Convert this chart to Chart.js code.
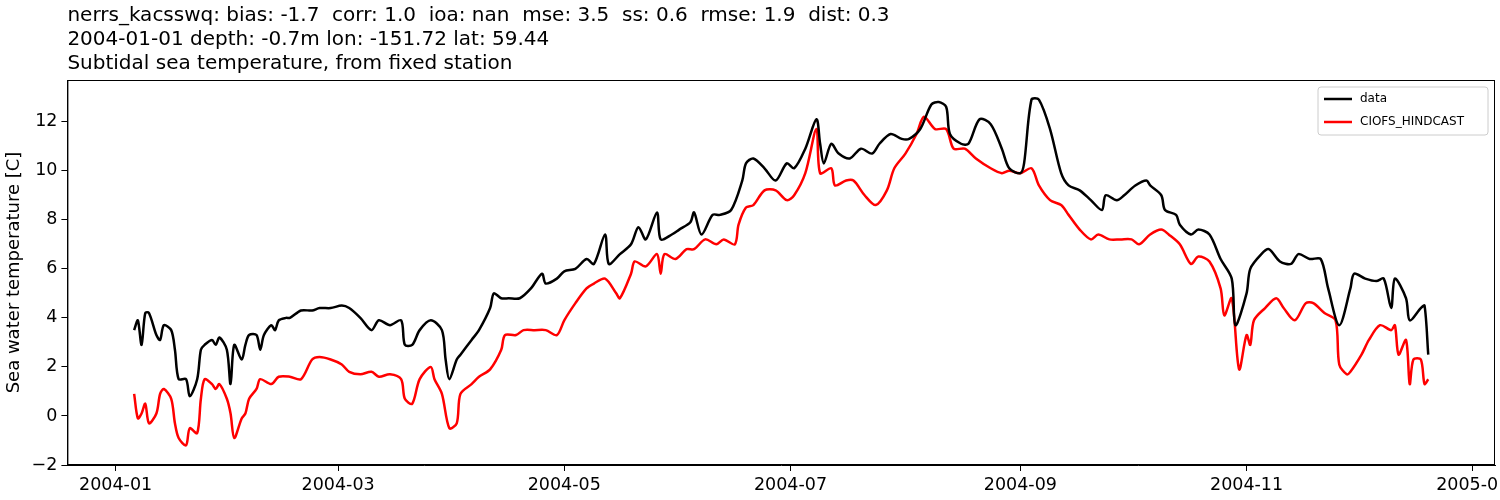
<!DOCTYPE html>
<html>
<head>
<meta charset="utf-8">
<script src="https://cdn.jsdelivr.net/npm/chart.js@4.4.0/dist/chart.umd.min.js"></script>
<style>
  html, body { margin: 0; padding: 0; background: #fff; }
</style>
</head>
<body>
<canvas id="c" width="1500" height="500"></canvas>
<script>
// Subtidal sea temperature, nerrs_kacsswq vs CIOFS_HINDCAST, 2004.
// x values are day offsets from 2004-01-01.

const titleLines = [
  'nerrs_kacsswq: bias: -1.7  corr: 1.0  ioa: nan  mse: 3.5  ss: 0.6  rmse: 1.9  dist: 0.3',
  '2004-01-01 depth: -0.7m lon: -151.72 lat: 59.44',
  'Subtidal sea temperature, from fixed station'
];
const yLabel = 'Sea water temperature [C]';

const tickDays = [0, 60, 121, 182, 244, 305, 366];
const tickLabels = ['2004-01', '2004-03', '2004-05', '2004-07', '2004-09', '2004-11', '2005-01'];
const yTicks = [-2, 0, 2, 4, 6, 8, 10, 12];

const dataDays = [5,6,7,8,9,11,12,13,15,16,17,19,20,22,23,24,26,27,28,30,31,32,34,35,36,38,39,40,42,43,44,46,47,50,53,55,58,61,63,66,69,71,74,77,78,80,82,85,88,89,90,92,93,96,98,101,102,104,106,109,112,115,116,119,121,124,127,129,132,133,136,139,141,143,146,147,150,152,155,156,158,161,163,166,169,170,172,175,178,181,183,186,189,190,191,193,195,198,201,204,206,209,212,214,217,220,222,224,225,228,230,233,236,239,241,244,245,247,249,252,255,257,260,263,266,267,270,272,275,278,279,282,283,286,287,290,292,295,298,301,302,305,306,309,311,314,317,319,322,325,327,330,333,334,337,340,342,344,345,348,349,352,353,354];
const dataTemp = [3.5,3.9,2.9,4.2,4.2,3.3,3.1,3.7,3.5,2.7,1.5,1.5,0.8,1.5,2.7,2.9,3.1,2.9,3.2,2.7,1.3,2.9,2.3,2.9,3.3,3.3,2.7,3.3,3.7,3.5,3.9,4.0,4.0,4.3,4.3,4.4,4.4,4.5,4.4,4.0,3.5,3.9,3.7,3.9,2.9,2.9,3.5,3.9,3.5,2.3,1.5,2.3,2.5,3.1,3.5,4.4,5.0,4.8,4.8,4.8,5.2,5.8,5.4,5.6,5.9,6.0,6.4,6.2,7.4,6.2,6.6,7.0,7.7,7.2,8.3,7.2,7.4,7.6,7.9,8.3,7.4,8.2,8.2,8.4,9.6,10.3,10.5,10.1,9.6,10.3,10.1,10.9,12.1,11.1,10.3,11.1,10.7,10.5,10.9,10.7,11.1,11.5,11.3,11.3,11.7,12.7,12.8,12.6,11.5,11.1,11.1,12.1,11.9,10.9,10.1,9.9,10.3,12.9,12.9,11.7,9.9,9.4,9.2,8.8,8.4,9.0,8.8,9.0,9.4,9.6,9.4,9.0,8.4,8.2,7.8,7.4,7.6,7.4,6.4,5.6,3.7,5.0,6.0,6.6,6.8,6.3,6.2,6.6,6.4,6.4,5.2,3.7,5.2,5.8,5.6,5.5,5.6,4.4,5.6,4.8,3.9,4.4,4.5,2.5];

const modelDays = [5,6,7,8,9,11,12,13,15,16,17,19,20,22,23,24,26,27,28,30,31,32,34,35,36,38,39,42,44,47,50,53,55,58,61,63,66,69,71,74,77,78,80,82,85,86,88,90,92,93,96,98,101,104,105,108,110,113,116,119,121,124,127,129,132,135,136,139,140,143,146,147,148,151,154,156,159,162,164,167,168,170,172,175,178,181,183,186,189,190,193,194,197,199,202,205,208,210,213,216,218,221,224,226,229,232,236,239,241,244,247,249,252,255,257,260,263,265,268,271,274,276,279,282,284,287,290,292,295,298,299,301,303,305,306,307,310,313,315,318,321,323,326,329,330,332,333,336,338,341,344,345,346,348,349,350,352,353,354];
const modelTemp = [0.9,-0.1,0.1,0.5,-0.3,0.1,0.9,1.1,0.7,-0.3,-0.9,-1.2,-0.5,-0.7,0.7,1.5,1.3,1.1,1.3,0.7,0.1,-0.9,-0.1,0.1,0.7,1.1,1.5,1.3,1.6,1.6,1.5,2.3,2.4,2.3,2.1,1.8,1.7,1.8,1.6,1.7,1.5,0.7,0.5,1.5,2.0,1.5,0.9,-0.5,-0.3,0.9,1.3,1.6,1.9,2.7,3.3,3.3,3.5,3.5,3.5,3.3,3.9,4.6,5.2,5.4,5.6,5.0,4.8,5.8,6.3,6.1,6.6,5.8,6.6,6.4,6.8,6.8,7.2,7.0,7.2,7.0,7.8,8.5,8.6,9.2,9.2,8.8,9.0,9.9,11.7,9.9,10.1,9.4,9.6,9.6,9.0,8.6,9.2,10.1,10.7,11.5,12.2,11.7,11.7,10.9,10.9,10.5,10.1,9.9,10.0,9.9,10.1,9.4,8.8,8.6,8.2,7.6,7.2,7.4,7.2,7.2,7.2,7.0,7.4,7.6,7.4,7.0,6.2,6.5,6.3,5.2,4.1,4.8,1.9,3.3,2.9,3.9,4.4,4.8,4.4,3.9,4.6,4.6,4.2,3.9,2.1,1.7,1.8,2.5,3.1,3.7,3.5,3.7,2.5,3.1,1.3,2.3,2.3,1.3,1.5];

const FONT = 'DejaVu Sans, sans-serif';

const frameLegendTitle = {
  id: 'frameLegendTitle',
  afterDatasetsDraw(chart) {
    const { ctx, chartArea: a } = chart;
    ctx.save();
    ctx.strokeStyle = '#000';
    ctx.lineWidth = 1;
    ctx.strokeRect(a.left + 0.5, a.top + 0.5, a.right - a.left - 1, a.bottom - a.top - 1);

    // title, left aligned with the plot area
    ctx.fillStyle = '#000';
    ctx.font = '20px ' + FONT;
    ctx.textBaseline = 'alphabetic';
    titleLines.forEach((t, i) => ctx.fillText(t, a.left, 21 + i * 24));

    // legend box, upper right
    const ds = chart.data.datasets;
    const w = 170, h = 48;
    const x = a.right - w - 7, y = a.top + 7;
    ctx.fillStyle = 'rgba(255,255,255,0.8)';
    ctx.strokeStyle = '#ccc';
    ctx.beginPath();
    ctx.roundRect(x, y, w, h, 3);
    ctx.fill(); ctx.stroke();
    ctx.font = '12px ' + FONT;
    ctx.textBaseline = 'middle';
    ds.forEach((d, i) => {
      const ly = y + 12 + i * 23;
      ctx.strokeStyle = d.borderColor;
      ctx.lineWidth = 2.5;
      ctx.beginPath();
      ctx.moveTo(x + 6, ly); ctx.lineTo(x + 34, ly);
      ctx.stroke();
      ctx.fillStyle = '#000';
      ctx.fillText(d.label, x + 42, ly);
    });
    ctx.restore();
  },
};

new Chart(document.getElementById('c').getContext('2d'), {
  type: 'line',
  data: {
    datasets: [
      { label: 'data', data: dataDays.map((d, i) => ({ x: d, y: dataTemp[i] })),
        borderColor: '#000', borderWidth: 2.5, pointRadius: 0, tension: 0.3 },
      { label: 'CIOFS_HINDCAST', data: modelDays.map((d, i) => ({ x: d, y: modelTemp[i] })),
        borderColor: '#ff0000', borderWidth: 2.5, pointRadius: 0, tension: 0.3 },
    ],
  },
  options: {
    responsive: false,
    devicePixelRatio: 1,
    animation: false,
    layout: { padding: { left: 2, right: 5, top: 80, bottom: 0 } },
    plugins: {
      legend: { display: false },
      tooltip: { enabled: false },
      title: { display: false },
    },
    scales: {
      x: {
        type: 'linear', min: -13, max: 372,
        afterBuildTicks: ax => { ax.ticks = tickDays.map(v => ({ value: v })); },
        afterFit: ax => { ax.paddingRight = 0; ax.paddingLeft = 0; },
        ticks: { color: '#000', font: { family: FONT, size: 17.5 }, padding: 4,
                 callback: v => tickLabels[tickDays.indexOf(v)] ?? '', maxRotation: 0, autoSkip: false },
        grid: { display: true, drawOnChartArea: false, tickLength: 6, color: '#000' },
        border: { color: '#000' },
      },
      y: {
        min: -2, max: 13.7,
        afterBuildTicks: ax => { ax.ticks = yTicks.map(v => ({ value: v })); },
        ticks: { color: '#000', font: { family: FONT, size: 17.5 }, padding: 4,
                 callback: v => String(v).replace('-', '\u2212') },
        grid: { display: true, drawOnChartArea: false, tickLength: 6, color: '#000' },
        border: { color: '#000' },
        title: { display: true, text: yLabel, color: '#000', font: { family: FONT, size: 18 }, padding: 2 },
      },
    },
  },
  plugins: [frameLegendTitle],
});
</script>
</body>
</html>
